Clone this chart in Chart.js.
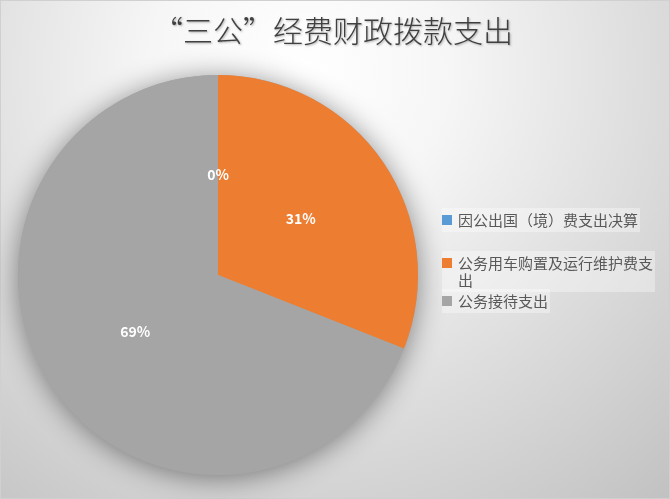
<!DOCTYPE html>
<html>
<head>
<meta charset="utf-8">
<script src="https://cdn.jsdelivr.net/npm/chart.js@4"></script>
<style>
  html, body { margin: 0; padding: 0; background: #fff; }
  #wrap { width: 670px; height: 499px; position: relative; }
</style>
</head>
<body>
<div id="wrap"><canvas id="myChart"></canvas></div>
<script>
const titleText = '“三公”经费财政拨款支出';
const categories = ['因公出国（境）费支出决算', '公务用车购置及运行维护费支出', '公务接待支出'];
const values = [0, 31, 69];
const colors = ['#5B9BD5', '#ED7D31', '#A5A5A5'];

const cjk = '"Noto Sans CJK SC", "Noto Sans", sans-serif';

// background gradient, pie shadow, title, percent labels and legend
const decor = {
    id: 'decor',
    beforeDraw(chart) {
        const c = chart.ctx;
        const w = chart.width, h = chart.height;
        c.save();
        const g = c.createRadialGradient(300, 70, 0, 300, 70, 600);
        g.addColorStop(0, '#ffffff');
        g.addColorStop(0.25, '#f6f6f6');
        g.addColorStop(1, '#bdbdbd');
        c.fillStyle = g;
        c.fillRect(0, 0, w, h);
        c.strokeStyle = '#d0d0d0';
        c.lineWidth = 1;
        c.strokeRect(0.5, 0.5, w - 1, h - 1);

        // title
        c.font = '300 30px ' + cjk;
        c.textAlign = 'center';
        c.textBaseline = 'middle';
        c.shadowColor = 'rgba(0,0,0,0.3)';
        c.shadowBlur = 2;
        c.shadowOffsetX = 1;
        c.shadowOffsetY = 1;
        c.fillStyle = '#404040';
        c.fillText(titleText, 333, 31);
        c.restore();
    },
    beforeDatasetsDraw(chart) {
        const arc = chart.getDatasetMeta(0).data[0];
        if (!arc) return;
        const c = chart.ctx;
        c.save();
        c.shadowColor = 'rgba(0,0,0,0.45)';
        c.shadowBlur = 28;
        c.shadowOffsetY = 3;
        c.fillStyle = '#a5a5a5';
        c.beginPath();
        c.arc(arc.x, arc.y, arc.outerRadius, 0, Math.PI * 2);
        c.fill();
        c.restore();
    },
    afterDatasetsDraw(chart) {
        const c = chart.ctx;
        const total = values.reduce((a, b) => a + b, 0);
        c.save();
        c.font = 'bold 14px ' + cjk;
        c.fillStyle = '#ffffff';
        c.textAlign = 'center';
        c.textBaseline = 'middle';
        chart.getDatasetMeta(0).data.forEach((el, i) => {
            const p = el.tooltipPosition();
            c.fillText(Math.round(values[i] / total * 100) + '%', p.x, p.y);
        });
        c.restore();
    },
    afterDraw(chart) {
        const c = chart.ctx;
        c.save();
        c.font = '15px ' + cjk;
        c.textBaseline = 'middle';
        const x0 = 442, tx = 458, maxW = 198;
        const rows = [220, 263, 301];
        categories.forEach((name, i) => {
            // wrap the label char by char
            const lines = [];
            let cur = '';
            for (const ch of name) {
                if (c.measureText(cur + ch).width > maxW) { lines.push(cur); cur = ch; }
                else cur += ch;
            }
            lines.push(cur);
            const y = rows[i];
            const bw = Math.max(...lines.map(l => c.measureText(l).width)) + (tx - x0) + 2;
            c.fillStyle = 'rgba(255,255,255,0.35)';
            c.fillRect(x0, y - 12, bw, lines.length * 17 + 7);
            c.fillStyle = colors[i];
            c.fillRect(x0, y - 5, 10, 10);
            c.fillStyle = '#595959';
            lines.forEach((l, k) => c.fillText(l, tx, y + k * 17));
        });
        c.restore();
    }
};

new Chart(document.getElementById('myChart'), {
    type: 'pie',
    data: {
        labels: categories,
        datasets: [{
            data: values,
            backgroundColor: colors,
            borderWidth: 0
        }]
    },
    options: {
        responsive: true,
        maintainAspectRatio: false,
        animation: false,
        layout: {
            padding: { top: 75, bottom: 24, left: 18, right: 252 }
        },
        plugins: {
            legend: { display: false },
            title: { display: false },
            tooltip: { enabled: false }
        }
    },
    plugins: [decor]
});
</script>
</body>
</html>
